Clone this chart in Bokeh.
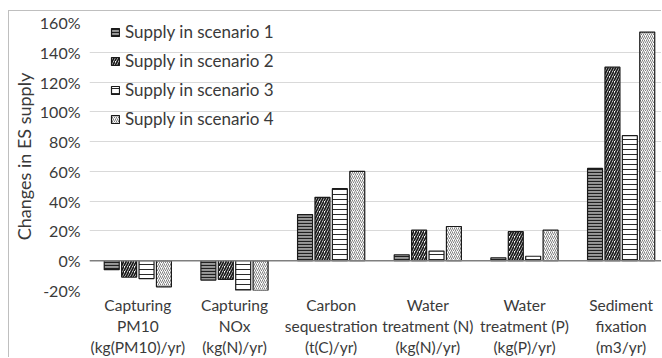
from bokeh.plotting import figure
from bokeh.models import Range1d, FixedTicker, Span, Legend, LegendItem, ColumnDataSource
from bokeh.embed import file_html
from bokeh.resources import INLINE
import numpy as np

categories = [
    "Capturing\nPM10\n(kg(PM10)/yr)",
    "Capturing\nNOx\n(kg(N)/yr)",
    "Carbon\nsequestration\n(t(C)/yr)",
    "Water\ntreatment (N)\n(kg(N)/yr)",
    "Water\ntreatment (P)\n(kg(P)/yr)",
    "Sediment\nfixation\n(m3/yr)",
]
series_names = ["Supply in scenario 1", "Supply in scenario 2",
                "Supply in scenario 3", "Supply in scenario 4"]
scenario1 = [-6, -13, 31, 4, 2, 62]
scenario2 = [-11, -12.5, 42.6, 20.5, 19.5, 130]
scenario3 = [-12, -20, 48.4, 6.5, 3, 84]
scenario4 = [-17.5, -20, 60, 23, 20.5, 153.6]
y_ticks = [-20, 0, 20, 40, 60, 80, 100, 120, 140, 160]

FONT = "Lato"
TEXT = "#3a3a3a"

n = len(categories)
centers = np.arange(n) + 0.5
off_x, off_y = 9, 11           # figure host offset (margin + border)
frame_left_px = 87
fig_w = 662 - off_x
fig_h = 358 - off_y
cat_px = 97.0
frame_w = 662 - frame_left_px
x_end = frame_w / cat_px
top_border = 22 - off_y
bottom_panel = 70
frame_h = fig_h - top_border - bottom_panel

p = figure(width=fig_w, height=fig_h, output_backend="svg", toolbar_location=None,
           x_range=Range1d(0, x_end), y_range=Range1d(-20, 160))
p.min_border_left = frame_left_px - off_x
p.min_border_right = 0
p.min_border_top = top_border
p.min_border_bottom = 0
p.outline_line_color = None
p.background_fill_color = "white"
p.border_fill_color = "white"

styles = [
    dict(fill_color="#9a9a9a", hatch_pattern="horizontal_line", hatch_color="#202020",
         hatch_scale=3, hatch_weight=1.2),
    dict(fill_color="white", hatch_pattern="right_diagonal_line", hatch_color="#1a1a1a",
         hatch_scale=5, hatch_weight=1.7),
    dict(fill_color="white", hatch_pattern="horizontal_line", hatch_color="#2a2a2a",
         hatch_scale=5, hatch_weight=1.0),
    dict(fill_color="white", hatch_pattern="right_diagonal_line", hatch_color="#808080",
         hatch_scale=4, hatch_weight=1.0),
]
all_vals = [scenario1, scenario2, scenario3, scenario4]
bar_w = 0.155
step = 0.18
items = []
for k, (vals, st, name) in enumerate(zip(all_vals, styles, series_names)):
    off = (k - 1.5) * step
    src = ColumnDataSource(dict(x=centers + off, top=vals))
    r = p.vbar(x="x", top="top", bottom=0, width=bar_w, source=src,
               line_color="#1a1a1a", line_width=1.2, **st)
    items.append(LegendItem(label=name, renderers=[r]))

zero = Span(location=0, dimension="width", line_color="#7f7f7f", line_width=1.5)
p.add_layout(zero)

p.xgrid.grid_line_color = None
p.ygrid.grid_line_color = "#d9d9d9"
p.ygrid.grid_line_width = 1.2
p.ygrid.ticker = FixedTicker(ticks=y_ticks)

p.yaxis.ticker = FixedTicker(ticks=y_ticks)
p.yaxis.major_label_overrides = {t: f"{t}%" for t in y_ticks}
p.yaxis.axis_line_color = None
p.yaxis.major_tick_line_color = None
p.yaxis.minor_tick_line_color = None
p.yaxis.major_tick_out = 0
p.yaxis.major_tick_in = 0
p.yaxis.major_label_standoff = 9
p.yaxis.major_label_text_font = FONT
p.yaxis.major_label_text_font_size = "16px"
p.yaxis.major_label_text_color = TEXT
p.yaxis.axis_label = "Changes in ES supply"
p.yaxis.axis_label_text_font = FONT
p.yaxis.axis_label_text_font_size = "18px"
p.yaxis.axis_label_text_font_style = "normal"
p.yaxis.axis_label_text_color = TEXT
p.yaxis.axis_label_standoff = 2

p.xaxis.ticker = FixedTicker(ticks=list(centers))
p.xaxis.major_label_overrides = {float(c): lab for c, lab in zip(centers, categories)}
p.xaxis.axis_line_color = None
p.xaxis.major_tick_line_color = None
p.xaxis.minor_tick_line_color = None
p.xaxis.major_tick_out = 0
p.xaxis.major_tick_in = 0
p.xaxis.major_label_standoff = 5
p.xaxis.major_label_text_font = FONT
p.xaxis.major_label_text_font_size = "15.5px"
p.xaxis.major_label_text_color = TEXT
p.xaxis.major_label_text_line_height = 1.18

legend = Legend(items=items, location=(21, frame_h - 1 - 104))
legend.label_text_font = FONT
legend.label_text_font_size = "17px"
legend.label_text_color = TEXT
legend.glyph_width = 10
legend.glyph_height = 10
legend.label_height = 20
legend.spacing = 8
legend.padding = 0
legend.margin = 0
legend.label_standoff = 5
legend.background_fill_alpha = 0
legend.border_line_color = None
p.add_layout(legend)

p.styles = {"margin-left": "8px", "margin-top": "10px",
            "border-left": "1px solid #bfbfbf", "border-top": "1px solid #bfbfbf"}

open("out.html", "w").write(file_html(p, INLINE))
